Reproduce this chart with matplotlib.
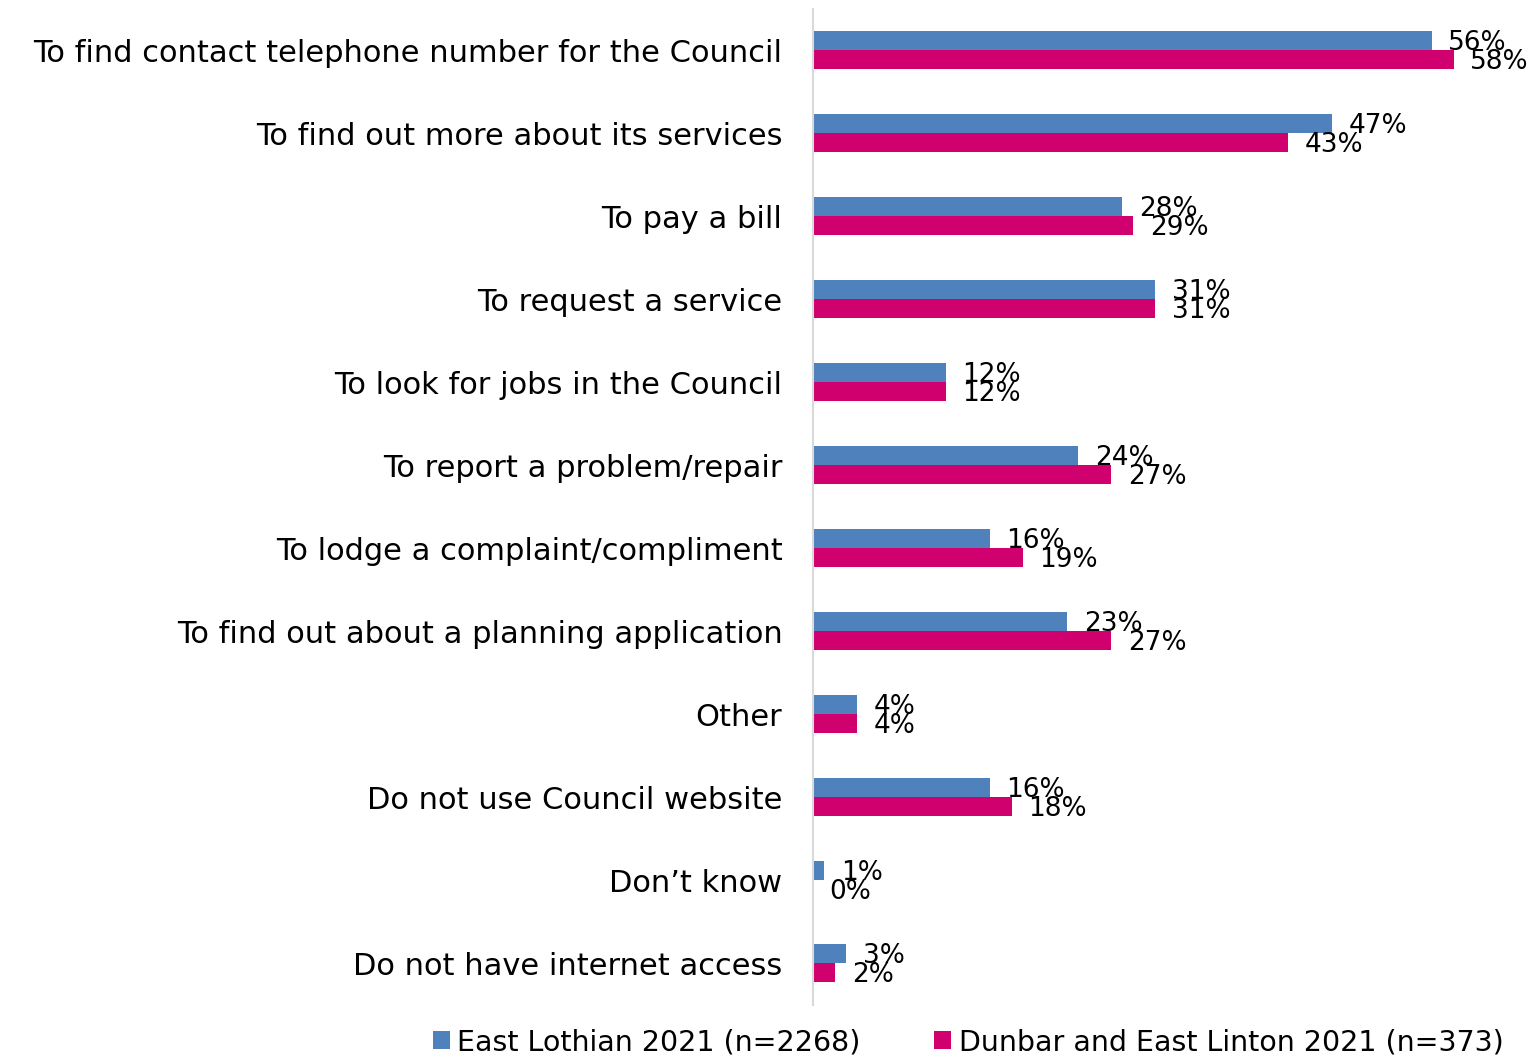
import matplotlib
matplotlib.use("Agg")
import matplotlib.pyplot as plt
import numpy as np

categories = [
    "To find contact telephone number for the Council",
    "To find out more about its services",
    "To pay a bill",
    "To request a service",
    "To look for jobs in the Council",
    "To report a problem/repair",
    "To lodge a complaint/compliment",
    "To find out about a planning application",
    "Other",
    "Do not use Council website",
    "Don\u2019t know",
    "Do not have internet access",
]
east_lothian = [56, 47, 28, 31, 12, 24, 16, 23, 4, 16, 1, 3]
dunbar = [58, 43, 29, 31, 12, 27, 19, 27, 4, 18, 0, 2]
series_names = ["East Lothian 2021 (n=2268)", "Dunbar and East Linton 2021 (n=373)"]
colors = ["#4F81BD", "#D0006F"]

plt.rcParams['font.family'] = ['DejaVu Sans']

fig = plt.figure(figsize=(15.36, 10.6), dpi=100)
ax = fig.add_axes([813/1536, 1 - 1004.5/1060, (1531-813)/1536, (1004.5-8.5)/1060])

y = np.arange(len(categories))
h = 0.23
b1 = ax.barh(y - h/2, east_lothian, height=h, color=colors[0], label=series_names[0])
b2 = ax.barh(y + h/2, dunbar, height=h, color=colors[1], label=series_names[1])

for bars, vals in ((b1, east_lothian), (b2, dunbar)):
    for bar, v in zip(bars, vals):
        ax.annotate(f"{v}%", (bar.get_width(), bar.get_y() + bar.get_height()/2),
                    xytext=(12, -2), textcoords="offset points",
                    ha="left", va="center", fontsize=19, color="black")

ax.set_xlim(0, 65)
ax.set_ylim(len(categories) - 0.5, -0.5)
ax.set_yticks(y)
ax.set_yticklabels(categories, fontsize=22)
ax.tick_params(axis='y', length=0, pad=22)
ax.set_xticks([])
for s in ["top", "right", "bottom"]:
    ax.spines[s].set_visible(False)
ax.spines["left"].set_color("#D9D9D9")
ax.spines["left"].set_linewidth(1.5)

leg = fig.legend(handles=[b1, b2], labels=series_names, loc="center",
                 bbox_to_anchor=(968/1536, 1 - 1042/1060), ncol=2, frameon=False,
                 fontsize=20.5, handlelength=0.6, handleheight=0.6,
                 handletextpad=0.25, columnspacing=2.6, borderaxespad=0)

fig.savefig("out.png", dpi=100)
